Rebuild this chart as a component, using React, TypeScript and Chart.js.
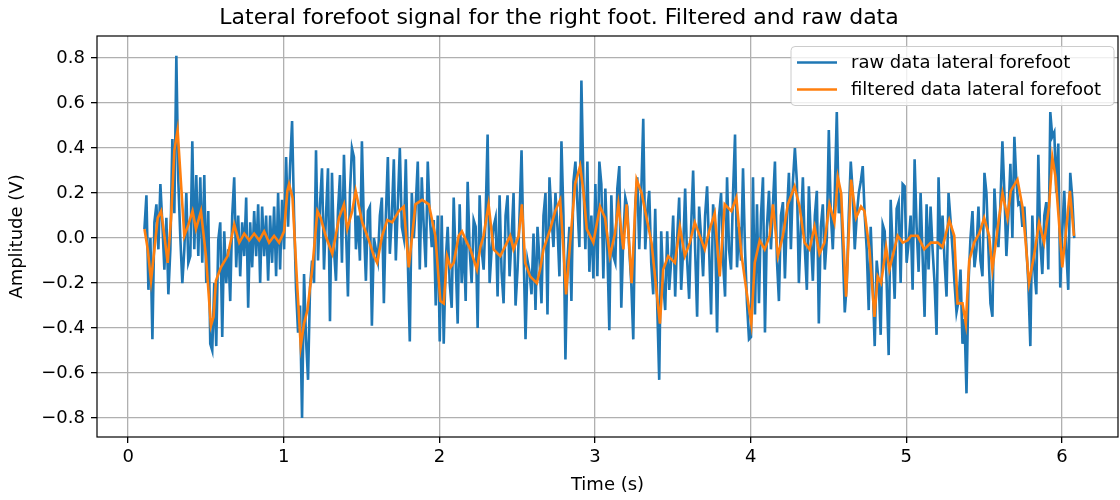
import React, { useEffect, useRef } from 'react';
import { Chart, registerables } from 'chart.js';

Chart.register(...registerables);

// Raw signal: sampled every RAW_STEP seconds starting at RAW_START
const RAW_START = 0.1047;
const RAW_STEP = 0.01282;

const rawSecond1 = [
  0.04, 0.19, -0.23, 0.0, -0.45, 0.07, 0.15, -0.05, 0.24, 0.06,
  -0.14, 0.09, -0.25, -0.05, 0.44, 0.11, 0.81, 0.25, 0.0, -0.2,
  -0.05, 0.2, -0.11, -0.08, 0.43, -0.05, 0.28, -0.08, 0.27, -0.11,
  0.28, -0.2, 0.12, -0.47, -0.5, -0.2, -0.48, -0.01, 0.07, -0.44,
  0.03, -0.2, -0.05, -0.28, 0.1, 0.27, -0.13, 0.1, -0.17, 0.07,
  -0.08, 0.18, -0.31, 0.07, -0.13, 0.12, -0.08, 0.15, -0.2, 0.14,
  -0.08, 0.1, -0.19, 0.1, -0.11, 0.14, -0.17, 0.2, -0.14, 0.17,
  -0.05,
];
const rawSecond2 = [
  0.36, 0.05, 0.32, 0.52, 0.1, -0.23, -0.42, -0.3, -0.8, -0.16,
  -0.45, -0.63, -0.22, -0.1, -0.2, 0.39, -0.1, 0.15, 0.31, -0.14,
  0.1, 0.31, -0.37, 0.29, -0.05, -0.19, 0.12, 0.28, -0.11, 0.37,
  0.05, -0.26, 0.2, 0.4, 0.36, -0.05, 0.1, -0.1, 0.43, 0.05,
  -0.19, 0.12, 0.14, -0.39, 0.0, -0.05, -0.1, 0.1, 0.18, -0.29,
  0.1, 0.36, -0.07, 0.1, 0.35, -0.1, 0.15, 0.4, 0.05, 0.0,
  0.35, -0.1, -0.46, 0.2, 0.0, 0.15, 0.34, -0.14, 0.27, 0.05,
  -0.13, 0.34, 0.1, -0.04, 0.08, -0.3, 0.1, -0.46,
];
const rawSecond3 = [
  0.1, -0.47, -0.1, 0.05, -0.2, -0.31, 0.18, -0.1, -0.38, 0.15,
  -0.2, 0.0, -0.28, 0.25, -0.05, -0.2, 0.08, 0.05, -0.4, 0.19,
  -0.05, -0.14, 0.1, 0.46, -0.2, -0.05, 0.05, 0.09, -0.26, 0.19,
  -0.15, -0.29, 0.1, 0.19, -0.17, 0.0, 0.2, -0.3, -0.14, 0.1,
  0.39, -0.05, -0.45, -0.1, -0.15, -0.25, 0.02, -0.32, 0.05, -0.1,
  -0.29, 0.1, 0.2, -0.34, 0.27, 0.1, -0.04, 0.2, 0.05, -0.17,
  0.43, 0.1, -0.54, -0.1, 0.05, -0.28, 0.25, 0.34, 0.15, -0.04,
  0.7, 0.25, -0.05, 0.34, -0.15, 0.1, -0.18,
];
const rawSecond4 = [
  0.24, -0.17, 0.34, 0.24, -0.18, 0.22, -0.05, -0.41, 0.19, -0.08,
  -0.11, 0.22, 0.32, -0.31, 0.0, 0.18, 0.14, -0.05, -0.2, -0.45,
  0.15, 0.27, -0.05, 0.2, 0.53, -0.05, 0.12, 0.21, -0.11, -0.25,
  0.13, -0.3, -0.63, 0.03, -0.2, -0.32, 0.03, -0.23, -0.1, 0.1,
  -0.26, 0.0, 0.18, -0.23, -0.05, 0.22, -0.1, -0.27, 0.05, 0.3,
  -0.05, -0.35, 0.14, 0.0, -0.17, 0.1, 0.23, -0.05, -0.34, 0.15,
  0.05, -0.42, 0.1, 0.2, -0.1, -0.26, 0.27, -0.05, -0.14, 0.2,
  0.46, -0.13, 0.05, -0.1, 0.31, -0.05, -0.29, -0.45,
];
const rawSecond5 = [
  -0.44, 0.27, -0.34, 0.15, -0.29, 0.1, 0.27, -0.42, 0.05, 0.21,
  -0.05, 0.15, 0.34, -0.1, -0.28, 0.1, 0.16, -0.18, 0.1, 0.29,
  -0.05, 0.25, 0.4, 0.25, -0.2, 0.05, 0.27, -0.05, -0.23, 0.23,
  0.0, -0.19, 0.1, 0.21, -0.38, 0.05, 0.15, -0.14, 0.0, 0.48,
  0.11, -0.05, 0.2, 0.56, 0.11, 0.2, -0.05, -0.33, -0.2, 0.1,
  0.34, 0.2, -0.05, 0.1, 0.2, 0.25, 0.32, 0.1, -0.05, -0.32,
  0.05, -0.2, -0.48, -0.1, -0.2, -0.43, 0.06, 0.03, -0.2, -0.52,
  0.17, -0.05, -0.27, 0.13, 0.16, -0.2, 0.24,
];
const rawSecond6 = [
  0.23, -0.11, -0.02, 0.1, -0.23, 0.35, 0.05, -0.15, 0.2, -0.08,
  -0.35, 0.15, -0.14, 0.14, -0.05, -0.2, -0.43, 0.27, -0.05, 0.1,
  -0.1, -0.26, 0.2, 0.08, -0.05, -0.2, -0.33, -0.28, -0.14, -0.47,
  -0.36, -0.69, -0.2, 0.0, 0.12, -0.13, -0.05, 0.14, -0.1, -0.17,
  0.29, 0.2, -0.05, -0.29, -0.35, 0.22, 0.05, -0.04, 0.15, 0.43,
  0.2, -0.08, 0.1, 0.33, 0.0, 0.45, 0.25, 0.15, 0.16, 0.05,
  0.14, -0.04, -0.2, -0.48, 0.1, -0.14, -0.25, 0.37, -0.02, -0.16,
  0.1, 0.16, -0.14, 0.56, 0.45, 0.47, 0.2, 0.42, -0.22, 0.03,
  0.21, -0.05, -0.23, 0.29, 0.18, 0.0,
];

const filteredTime = [
  0.105, 0.126, 0.147, 0.169, 0.19, 0.212, 0.233, 0.254, 0.276, 0.297,
  0.318, 0.34, 0.361, 0.387, 0.414, 0.436, 0.468, 0.5, 0.532, 0.549,
  0.564, 0.596, 0.639, 0.682, 0.714, 0.746, 0.778, 0.81, 0.842, 0.874,
  0.906, 0.938, 0.97, 1.002, 1.023,
  1.034, 1.056, 1.088, 1.109, 1.13, 1.152, 1.184, 1.216, 1.237, 1.269,
  1.312, 1.355, 1.387, 1.408, 1.44, 1.462, 1.504, 1.547, 1.579, 1.6,
  1.632, 1.665, 1.697, 1.739, 1.771, 1.803, 1.825, 1.846, 1.889, 1.932,
  1.974, 2.006, 2.028,
  2.049, 2.071, 2.092, 2.124, 2.145, 2.177, 2.199, 2.241, 2.263, 2.284,
  2.316, 2.348, 2.391, 2.434, 2.455, 2.476, 2.509, 2.53, 2.551, 2.583,
  2.626, 2.647, 2.669, 2.712, 2.744, 2.776, 2.797, 2.814, 2.84, 2.872,
  2.904, 2.925, 2.947, 2.989,
  3.032, 3.064, 3.096, 3.128, 3.15, 3.182, 3.203, 3.235, 3.267, 3.299,
  3.331, 3.363, 3.385, 3.417, 3.438, 3.47, 3.513, 3.545, 3.577, 3.609,
  3.641, 3.673, 3.705, 3.737, 3.769, 3.801, 3.833, 3.876, 3.908, 3.94,
  3.972, 4.004,
  4.026, 4.058, 4.09, 4.122, 4.143, 4.175, 4.207, 4.239, 4.282, 4.314,
  4.346, 4.378, 4.41, 4.442, 4.474, 4.506, 4.538, 4.56, 4.581, 4.613,
  4.645, 4.677, 4.709, 4.731, 4.763, 4.795, 4.816, 4.838, 4.87, 4.891,
  4.912, 4.944, 4.977, 5.009,
  5.03, 5.073, 5.115, 5.158, 5.201, 5.233, 5.276, 5.308, 5.329, 5.361,
  5.382, 5.404, 5.436, 5.468, 5.5, 5.532, 5.553, 5.586, 5.618, 5.65,
  5.671, 5.714, 5.746, 5.767, 5.788, 5.82, 5.853, 5.885, 5.917, 5.938,
  5.959, 5.981, 6.002, 6.023, 6.051, 6.077,
];
const filteredAmplitude = [
  0.04, -0.05, -0.19, -0.05, 0.09, 0.12, 0.01, -0.11, 0.09, 0.39,
  0.48, 0.24, 0.01, 0.06, 0.12, 0.04, 0.12, -0.08, -0.39, -0.35,
  -0.19, -0.13, -0.08, 0.06, -0.02, 0.02, -0.01, 0.02, -0.01, 0.03,
  -0.02, 0.01, -0.02, 0.03, 0.21,
  0.24, 0.18, -0.23, -0.48, -0.38, -0.32, -0.13, 0.12, 0.09, 0.01,
  -0.07, 0.09, 0.15, 0.04, 0.12, 0.21, 0.07, -0.01, -0.08, -0.11,
  0.01, 0.08, 0.07, 0.12, 0.14, -0.13, 0.01, 0.15, 0.17, 0.15,
  0.01, -0.28, -0.29,
  -0.08, -0.13, -0.11, 0.01, 0.03, -0.02, -0.05, -0.14, -0.04, 0.01,
  0.15, -0.05, -0.08, -0.02, 0.01, -0.05, 0.01, 0.15, -0.11, -0.17,
  -0.2, -0.14, -0.05, 0.04, 0.12, 0.17, -0.05, -0.25, -0.02, 0.24,
  0.32, 0.21, 0.04, -0.02,
  0.14, 0.09, -0.08, 0.02, 0.15, -0.05, 0.15, -0.2, 0.26, 0.2,
  0.09, -0.02, -0.17, -0.38, -0.14, -0.08, -0.11, 0.05, -0.08, -0.02,
  0.07, 0.01, -0.05, 0.04, 0.11, -0.17, 0.15, 0.12, 0.18, -0.07,
  -0.23, -0.38,
  -0.11, -0.01, -0.05, 0.01, 0.15, -0.08, 0.01, 0.15, 0.23, 0.14,
  -0.02, -0.05, 0.05, -0.07, -0.02, 0.15, 0.07, 0.27, 0.2, -0.26,
  0.26, 0.09, 0.14, 0.12, -0.05, -0.35, -0.17, -0.2, -0.04, -0.14,
  -0.08, 0.01, -0.02, -0.01,
  0.01, 0.01, -0.05, -0.02, -0.02, -0.04, 0.08, 0.01, -0.29, -0.29,
  -0.38, -0.1, -0.02, 0.02, 0.09, 0.01, -0.14, 0.04, 0.2, 0.09,
  0.21, 0.26, 0.14, -0.02, -0.2, -0.08, 0.07, -0.02, 0.14, 0.36,
  0.27, 0.07, -0.13, 0.01, 0.21, 0.01,
];

const seriesLabels = ['raw data lateral forefoot', 'filtered data lateral forefoot'];
const seriesColors = ['#1f77b4', '#ff7f0e'];
const titleText = 'Lateral forefoot signal for the right foot. Filtered and raw data';
const xLabel = 'Time (s)';
const yLabel = 'Amplitude (V)';

const FONT = 'DejaVu Sans';

const fmtY = (v: number) => {
  const s = Math.abs(v) < 1e-9 ? '0.0' : v.toFixed(1);
  return s.replace('-', '\u2212');
};

const framePlugin = {
  id: 'frame',
  afterDatasetsDraw(chart: any) {
    const { ctx, chartArea } = chart;
    ctx.save();
    ctx.strokeStyle = '#000';
    ctx.lineWidth = 1.2;
    ctx.strokeRect(chartArea.left, chartArea.top, chartArea.right - chartArea.left, chartArea.bottom - chartArea.top);
    ctx.restore();
  },
};

const legendPlugin = {
  id: 'mplLegend',
  afterDraw(chart: any) {
    const { ctx, chartArea } = chart;
    const right = chartArea.right - 4;
    const top = chartArea.top + 10.5;
    const w = 323;
    const h = 59;
    const left = right - w;
    const r = 4;
    ctx.save();
    ctx.beginPath();
    ctx.moveTo(left + r, top);
    ctx.lineTo(left + w - r, top);
    ctx.quadraticCurveTo(left + w, top, left + w, top + r);
    ctx.lineTo(left + w, top + h - r);
    ctx.quadraticCurveTo(left + w, top + h, left + w - r, top + h);
    ctx.lineTo(left + r, top + h);
    ctx.quadraticCurveTo(left, top + h, left, top + h - r);
    ctx.lineTo(left, top + r);
    ctx.quadraticCurveTo(left, top, left + r, top);
    ctx.closePath();
    ctx.fillStyle = 'rgba(255,255,255,0.8)';
    ctx.fill();
    ctx.strokeStyle = '#cccccc';
    ctx.lineWidth = 1;
    ctx.stroke();
    ctx.font = `18px "${FONT}"`;
    ctx.textBaseline = 'middle';
    ctx.textAlign = 'left';
    chart.data.datasets.forEach((ds: any, i: number) => {
      const y = top + 16 + i * 27;
      ctx.strokeStyle = ds.borderColor;
      ctx.lineWidth = 2.6;
      ctx.beginPath();
      ctx.moveTo(left + 6, y);
      ctx.lineTo(left + 46, y);
      ctx.stroke();
      ctx.fillStyle = '#000';
      ctx.fillText(ds.label, left + 60, y + 1);
    });
    ctx.restore();
  },
};

export default function App() {
  const ref = useRef<HTMLCanvasElement | null>(null);
  useEffect(() => {
    if (!ref.current) return;
    const rawAmplitude = [...rawSecond1, ...rawSecond2, ...rawSecond3, ...rawSecond4, ...rawSecond5, ...rawSecond6];
    const rawPoints = rawAmplitude.map((v, i) => ({ x: RAW_START + i * RAW_STEP, y: v }));
    const filtPoints = filteredTime.map((t, i) => ({ x: t, y: filteredAmplitude[i] }));
    const tickFont = { family: FONT, size: 18 };
    const chart = new Chart(ref.current, {
      type: 'line',
      data: {
        datasets: [
          { label: seriesLabels[0], data: rawPoints, order: 2, borderColor: seriesColors[0], backgroundColor: seriesColors[0], borderWidth: 2.6, pointRadius: 0, tension: 0, fill: false },
          { label: seriesLabels[1], data: filtPoints, order: 1, borderColor: seriesColors[1], backgroundColor: seriesColors[1], borderWidth: 2.6, pointRadius: 0, tension: 0, fill: false },
        ],
      },
      options: {
        animation: false,
        responsive: false,
        maintainAspectRatio: false,
        events: [],
        layout: { padding: { left: 0, right: 2, top: 0, bottom: 0 } },
        plugins: {
          legend: { display: false },
          tooltip: { enabled: false },
          title: {
            display: true,
            text: titleText,
            color: '#000',
            font: { family: FONT, size: 22, weight: 'normal' },
            padding: { top: 5, bottom: 4.6 },
          },
        },
        scales: {
          x: {
            type: 'linear',
            min: -0.2,
            max: 6.36,
            afterFit: (s: any) => { s.height = 63; },
            ticks: { stepSize: 1, includeBounds: false, font: tickFont, color: '#000', padding: 4, maxRotation: 0, callback: (v: any) => String(v) },
            grid: { color: '#b0b0b0', lineWidth: 1.3, tickColor: '#000', tickLength: 6, tickWidth: 1.3 },
            border: { display: false },
            title: { display: true, text: xLabel, color: '#000', font: tickFont, padding: { top: 0, bottom: 4 } },
          },
          y: {
            type: 'linear',
            min: -0.884,
            max: 0.898,
            afterFit: (s: any) => { s.width = 97; },
            ticks: { stepSize: 0.2, includeBounds: false, font: tickFont, color: '#000', padding: 6, callback: (v: any) => fmtY(Number(v)) },
            grid: { color: '#b0b0b0', lineWidth: 1.3, tickColor: '#000', tickLength: 6, tickWidth: 1.3 },
            border: { display: false },
            title: { display: true, text: yLabel, color: '#000', font: tickFont, padding: { top: 7, bottom: 0 } },
          },
        },
      } as any,
      plugins: [framePlugin, legendPlugin],
    });
    return () => chart.destroy();
  }, []);
  return (
    <div style={{ position: 'fixed', left: 0, top: 0, width: 1120, height: 500, background: '#fff' }}>
      <canvas ref={ref} width={1120} height={500} style={{ display: 'block', width: 1120, height: 500 }} />
    </div>
  );
}
